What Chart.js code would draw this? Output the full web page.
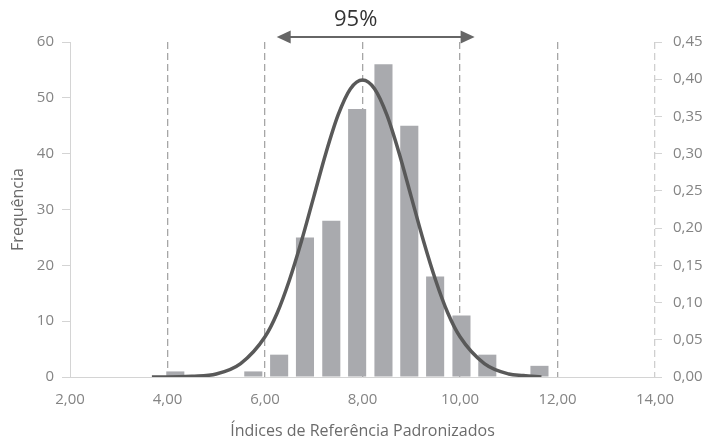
<!DOCTYPE html>
<html>
<head>
<meta charset="utf-8">
<script src="https://cdn.jsdelivr.net/npm/chart.js@4/dist/chart.umd.min.js"></script>
<style>
  html, body { margin: 0; padding: 0; background: #fff; }
  #wrap { width: 709px; height: 439px; }
</style>
</head>
<body>
<div id="wrap"><canvas id="chart"></canvas></div>
<script>
// histogram bins (centre of each bin) and counts
const binCenters = [4.16, 5.76, 6.29, 6.82, 7.36, 7.89, 8.43, 8.96, 9.49, 10.03, 10.56, 11.63];
const binCounts = [1, 1, 4, 25, 28, 48, 56, 45, 18, 11, 4, 2];

// fitted density curve (right axis)
const curveX = [3.68, 4.0, 4.5, 5.0, 5.5, 6.0, 6.25, 6.5, 6.75, 7.0, 7.25, 7.5, 7.75, 8.0,
  8.25, 8.5, 8.75, 9.0, 9.25, 9.5, 9.75, 10.0, 10.5, 11.0, 11.3, 11.67];
const curveY = [0.000, 0.000, 0.001, 0.004, 0.018, 0.054, 0.086, 0.130, 0.183, 0.242, 0.301, 0.352, 0.387, 0.399,
  0.387, 0.352, 0.301, 0.242, 0.183, 0.130, 0.086, 0.054, 0.018, 0.004, 0.002, 0.000];

// 95% interval arrow
const arrowFrom = 6.24;
const arrowTo = 10.30;
const arrowLabel = "95%";

const font = "'Open Sans', 'DejaVu Sans', sans-serif";
const tickColor = "#848484";
const axisColor = "#d4d4d4";

const fmt2 = (v) => Number(v).toFixed(2).replace(".", ",");

// x grid: hidden under the left axis, light at the right edge (acts as the dashed right axis)
function gridColor(c) {
  if (!c.tick) return "#a6a6a6";
  if (c.tick.value === 2) return "rgba(0,0,0,0)";
  if (c.tick.value === 14) return "#cfcfcf";
  return "#a6a6a6";
}

const arrowPlugin = {
  id: "arrow95",
  afterDraw(chart) {
    const { ctx, scales } = chart;
    const x1 = scales.x.getPixelForValue(arrowFrom);
    const x2 = scales.x.getPixelForValue(arrowTo);
    const y = chart.chartArea.top - 5;
    ctx.save();
    ctx.strokeStyle = "#666";
    ctx.fillStyle = "#666";
    ctx.lineWidth = 2;
    ctx.beginPath();
    ctx.moveTo(x1 + 10, y);
    ctx.lineTo(x2 - 10, y);
    ctx.stroke();
    // heads
    ctx.beginPath();
    ctx.moveTo(x1, y);
    ctx.lineTo(x1 + 14, y - 6.5);
    ctx.lineTo(x1 + 14, y + 6.5);
    ctx.closePath();
    ctx.fill();
    ctx.beginPath();
    ctx.moveTo(x2, y);
    ctx.lineTo(x2 - 14, y - 6.5);
    ctx.lineTo(x2 - 14, y + 6.5);
    ctx.closePath();
    ctx.fill();
    ctx.fillStyle = "#333";
    ctx.font = "22px " + font;
    ctx.textAlign = "center";
    ctx.textBaseline = "middle";
    ctx.fillText(arrowLabel, scales.x.getPixelForValue(7.86), y - 17);
    ctx.restore();
  },
};

new Chart(document.getElementById("chart"), {
  data: {
    datasets: [
      {
        type: "line",
        data: curveX.map((x, i) => ({ x, y: curveY[i] })),
        yAxisID: "y1",
        borderColor: "#595959",
        borderWidth: 3.5,
        pointRadius: 0,
        cubicInterpolationMode: "monotone",
        fill: false,
      },
      {
        type: "bar",
        data: binCenters.map((x, i) => ({ x, y: binCounts[i] })),
        yAxisID: "y",
        backgroundColor: "#a9aaae",
        borderWidth: 0,
        categoryPercentage: 1,
        barPercentage: 0.7,
      },
    ],
  },
  plugins: [arrowPlugin],
  options: {
    responsive: true,
    maintainAspectRatio: false,
    animation: false,
    layout: { padding: { top: 42, left: 0, right: 0, bottom: 0 } },
    plugins: { legend: { display: false }, tooltip: { enabled: false } },
    scales: {
      x: {
        type: "linear",
        min: 2,
        max: 14,
        offset: false,
        ticks: { stepSize: 2, color: tickColor, font: { family: font, size: 15 }, padding: 14, callback: fmt2 },
        grid: { offset: false, drawTicks: false, color: gridColor, lineWidth: 1.3 },
        border: { color: axisColor, dash: [7, 4] },
        title: {
          display: true,
          text: "Índices de Referência Padronizados",
          color: "#6b6b6b",
          font: { family: font, size: 16, lineHeight: 1 },
          padding: { top: 0, bottom: 0 },
        },
        afterFit: (s) => { s.height = 62; },
      },
      y: {
        position: "left",
        min: 0,
        max: 60,
        ticks: { stepSize: 10, color: tickColor, font: { family: font, size: 15 }, padding: 8 },
        grid: { drawOnChartArea: false, tickLength: 8, color: axisColor },
        border: { color: axisColor },
        title: {
          display: true,
          text: "Frequência",
          color: "#6b6b6b",
          font: { family: font, size: 16, lineHeight: 1.2 },
          padding: { top: 9, bottom: 0 },
        },
        afterFit: (s) => { s.width = 70; },
      },
      y1: {
        position: "right",
        min: 0,
        max: 0.45,
        ticks: { stepSize: 0.05, color: tickColor, font: { family: font, size: 15 }, padding: 11, callback: fmt2 },
        grid: { drawOnChartArea: false, tickLength: 7, color: axisColor },
        border: { display: false },
        afterFit: (s) => { s.width = 54; },
      },
    },
  },
});
</script>
</body>
</html>
